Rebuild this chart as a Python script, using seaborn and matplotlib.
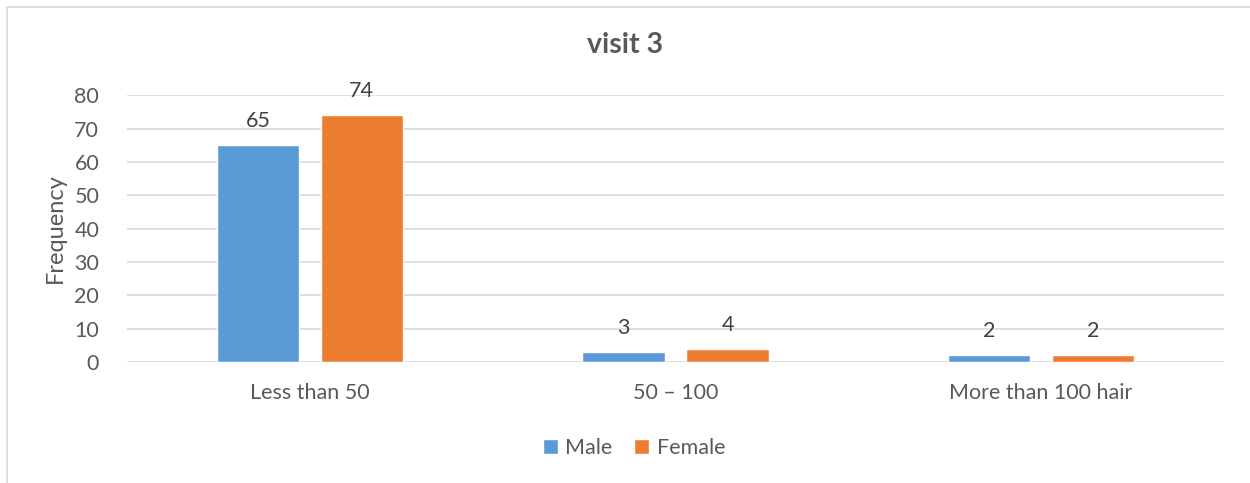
import pandas as pd
import matplotlib.pyplot as plt
import seaborn as sns
from matplotlib.patches import Rectangle

categories = ["Less than 50", "50 – 100", "More than 100 hair"]
male = [65, 3, 2]
female = [74, 4, 2]
groups = ["Male", "Female"]

df = pd.DataFrame({
    "category": categories * 2,
    "sex": ["Male"] * 3 + ["Female"] * 3,
    "value": male + female,
})

sns.set_style("white")
plt.rcParams["font.family"] = ["Lato", "DejaVu Sans"]
txt = "#595959"
grid = "#D9D9D9"

fig = plt.figure(figsize=(12.5, 4.83), dpi=100)
ax = fig.add_axes([0.1016, 0.2505, 0.8776, 0.5525])

sns.barplot(data=df, x="category", y="value", hue="sex", order=categories,
            hue_order=groups, palette=["#5B9BD5", "#ED7D31"],
            width=0.569, gap=0.211, saturation=1, ax=ax, legend=True)

for c in ax.containers:
    ax.bar_label(c, padding=10, fontsize=15.5, color="#404040")

ax.set_ylim(0, 80)
ax.set_yticks(range(0, 81, 10))
ax.set_xlim(-0.5, 2.5)
ax.yaxis.grid(True, color=grid, linewidth=1.2)
ax.set_axisbelow(True)
for s in ax.spines.values():
    s.set_visible(False)
ax.tick_params(axis="both", length=0, labelsize=15.5, labelcolor=txt)
ax.tick_params(axis="x", pad=15)
ax.tick_params(axis="y", pad=20)
ax.set_xlabel("")
ax.set_ylabel("Frequency", fontsize=17, color=txt, labelpad=6)

handles, labels = ax.get_legend_handles_labels()
ax.get_legend().remove()
fig.legend(handles, labels, loc="center", bbox_to_anchor=(634 / 1250, 1 - 448 / 483),
           ncol=2, frameon=False, fontsize=15.5, labelcolor=txt,
           handlelength=0.7, handleheight=0.7, handletextpad=0.35,
           columnspacing=1.0)

fig.text(0.5, 0.906, "visit 3", ha="center", va="center", fontsize=20.5,
         fontweight="bold", color=txt)

fig.patches.append(Rectangle((7 / 1250, -0.1), 1.2, 1 - 7 / 483 + 0.1,
                             transform=fig.transFigure, fill=False,
                             edgecolor=grid, linewidth=1.2))

fig.savefig("out.png", dpi=100)
